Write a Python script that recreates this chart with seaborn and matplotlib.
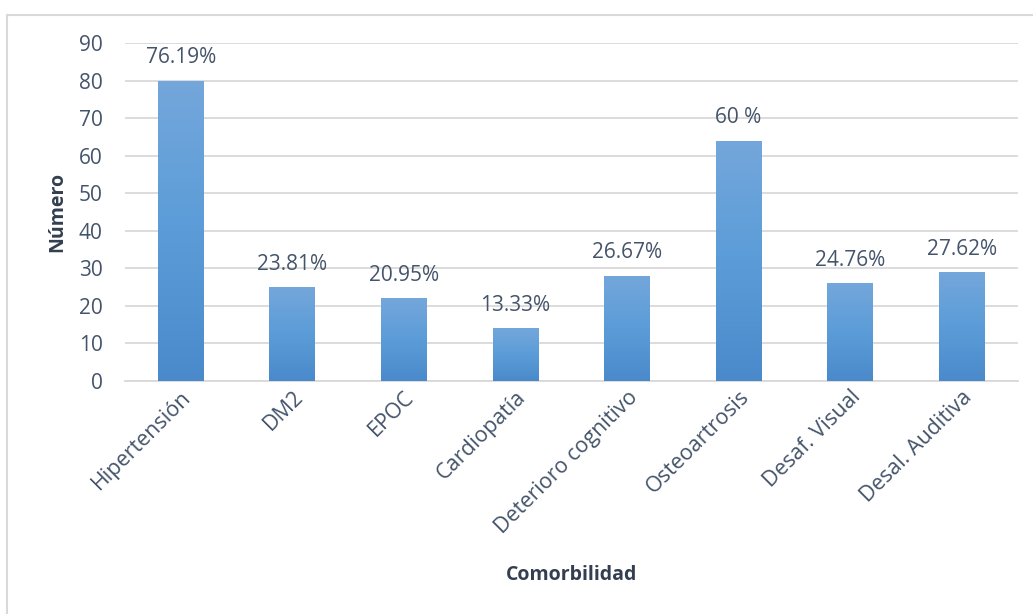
import numpy as np
import pandas as pd
import matplotlib
matplotlib.use("Agg")
import matplotlib.pyplot as plt
import seaborn as sns
from matplotlib.colors import LinearSegmentedColormap
from matplotlib.patches import Rectangle

categories = ["Hipertensión", "DM2", "EPOC", "Cardiopatía", "Deterioro cognitivo",
              "Osteoartrosis", "Desaf. Visual", "Desal. Auditiva"]
values = [80, 25, 22, 14, 28, 64, 26, 29]
pct_labels = ["76.19%", "23.81%", "20.95%", "13.33%", "26.67%", "60 %", "24.76%", "27.62%"]
yticks = [0, 10, 20, 30, 40, 50, 60, 70, 80, 90]

sns.set_theme(style="white")
plt.rcParams['font.family'] = ['Open Sans', 'DejaVu Sans']

text_col = "#44546a"
title_col = "#333f50"
grid_col = "#d9d9d9"

fig = plt.figure(figsize=(10.33, 6.14), dpi=100)
ax = fig.add_axes([0.121, 0.3795, 0.864, 0.5505])

df = pd.DataFrame({"Comorbilidad": categories, "Número": values})
sns.barplot(data=df, x="Comorbilidad", y="Número", ax=ax, width=0.41,
            color="#5b9bd5", saturation=1, zorder=3)

ax.set_ylim(0, 90)
ax.set_yticks(yticks)
ax.set_xlim(-0.5, len(categories) - 0.5)
ax.yaxis.grid(True, color=grid_col, linewidth=1.3, zorder=0)
ax.set_axisbelow(True)
for s in ["top", "right", "left"]:
    ax.spines[s].set_visible(False)
ax.spines["bottom"].set_color(grid_col)
ax.spines["bottom"].set_linewidth(1.3)

# gradient fill for the bars
cmap = LinearSegmentedColormap.from_list("g", ["#4a8acb", "#5b9cd8", "#74a7db"])
grad = np.linspace(0, 1, 256).reshape(-1, 1)
for p in list(ax.patches):
    x0, y0 = p.get_x(), p.get_y()
    w, h = p.get_width(), p.get_height()
    im = ax.imshow(grad, cmap=cmap, origin="lower", aspect="auto",
                   extent=[x0, x0 + w, y0, y0 + h], zorder=3.5)
    im.set_clip_path(p)
    p.set_edgecolor("none")

ax.set_xlim(-0.5, len(categories) - 0.5)
ax.set_ylim(0, 90)

for i, (v, lab) in enumerate(zip(values, pct_labels)):
    ax.annotate(lab, (i, v), xytext=(0, 9), textcoords="offset points",
                ha="center", va="bottom", fontsize=15, color=text_col)

ax.tick_params(axis="y", labelsize=15, labelcolor=text_col, length=0, pad=16)
ax.tick_params(axis="x", labelsize=15.5, labelcolor=text_col, length=0, pad=4)
plt.setp(ax.get_xticklabels(), rotation=45, ha="right", rotation_mode="anchor")

ax.set_ylabel("Número", fontsize=14, fontweight="bold", color=title_col, labelpad=10)
ax.set_xlabel("Comorbilidad", fontsize=14, fontweight="bold", color=title_col)
ax.xaxis.label.set_va("center")
ax.xaxis.set_label_coords(0.5, -0.574)
ax.yaxis.label.set_va("center")
ax.yaxis.set_label_coords(-(125 - 57) / (0.864 * 1033), 0.5)

# chart border
fig.patches.append(Rectangle((7 / 1033, -0.1), 1.2, 1 - 15 / 614 + 0.1,
                             transform=fig.transFigure, fill=False,
                             edgecolor=grid_col, linewidth=1.5))

fig.savefig("out.png", dpi=100)
